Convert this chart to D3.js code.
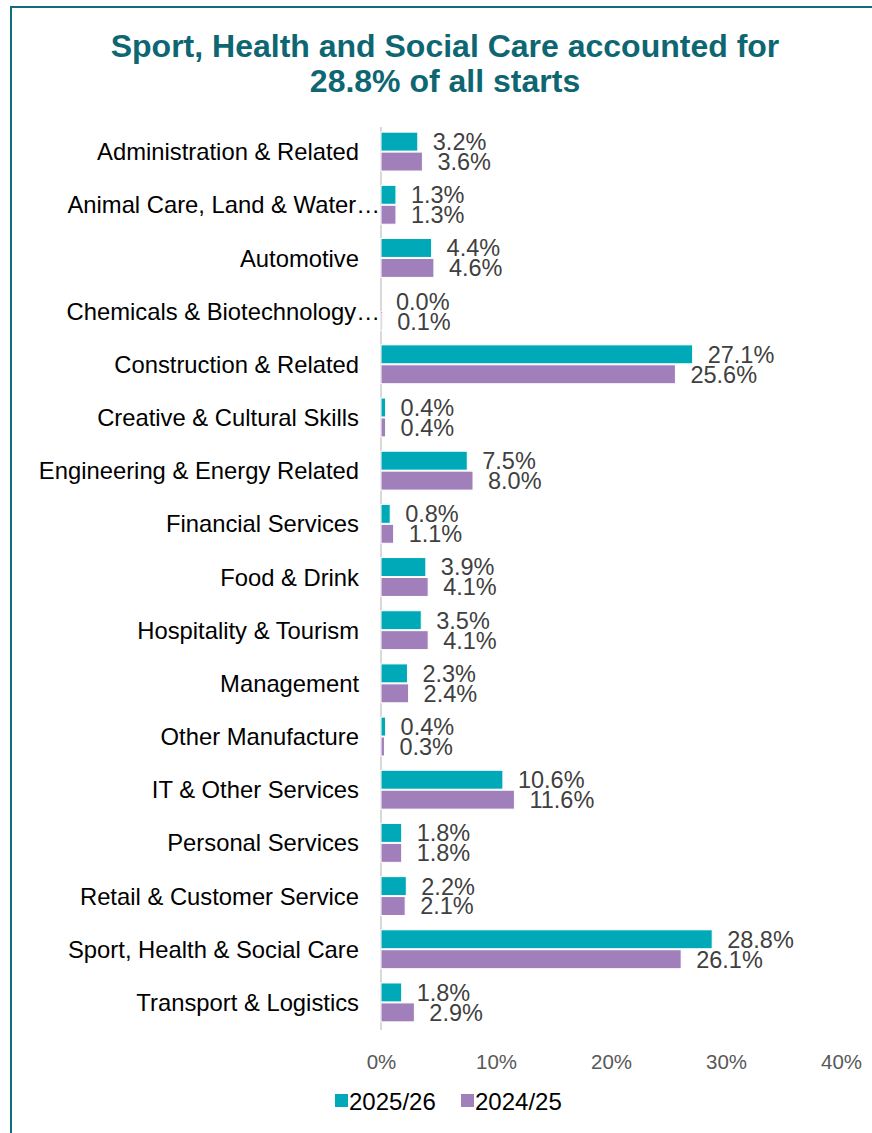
<!DOCTYPE html>
<html><head><meta charset="utf-8">
<script src="https://cdn.jsdelivr.net/npm/d3@7"></script>
<style>body{margin:0;background:#fff}svg{display:block;font-family:"Liberation Sans",Arial,sans-serif}</style>
</head><body><svg id="c" width="872" height="1133"></svg>
<script>
const categories = ["Administration & Related","Animal Care, Land & Water…","Automotive","Chemicals & Biotechnology…","Construction & Related","Creative & Cultural Skills","Engineering & Energy Related","Financial Services","Food & Drink","Hospitality & Tourism","Management","Other Manufacture","IT & Other Services","Personal Services","Retail & Customer Service","Sport, Health & Social Care","Transport & Logistics"];
const series2526 = [3.2,1.3,4.4,0.0,27.1,0.4,7.5,0.8,3.9,3.5,2.3,0.4,10.6,1.8,2.2,28.8,1.8];
const series2425 = [3.6,1.3,4.6,0.1,25.6,0.4,8.0,1.1,4.1,4.1,2.4,0.3,11.6,1.8,2.1,26.1,2.9];
const seriesNames = ["2025/26","2024/25"];
const tickValues = [0,10,20,30,40];
const colors = ["#00A9B7","#A07FBA"];

const svg = d3.select("#c");
svg.append("path").attr("d","M11,1133 V7 H872").attr("fill","none").attr("stroke","#0F6E7A").attr("stroke-width",2);
const title = svg.append("text").attr("text-anchor","middle").attr("fill","#0E6673")
  .attr("font-weight","bold").attr("font-size",32);
title.append("tspan").attr("x",445).attr("y",57).text("Sport, Health and Social Care accounted for");
title.append("tspan").attr("x",445).attr("y",92).text("28.8% of all starts");

const x = d3.scaleLinear().domain([0,40]).range([381,841]);
const y = d3.scaleBand().domain(categories).range([125,1029]).paddingInner(0.25).paddingOuter(0.125);
const y2 = d3.scaleBand().domain([0,1]).range([0,y.bandwidth()]).padding(0);

svg.append("line").attr("x1",x(0)).attr("x2",x(0)).attr("y1",127).attr("y2",1030).attr("stroke","#D9D9D9").attr("stroke-width",2);

const data = [series2526, series2425];
const g = svg.append("g");
categories.forEach((c,i)=>{
  data.forEach((s,j)=>{
    const yy = y(c)+y2(j);
    g.append("rect").attr("x",x(0)).attr("y",yy+0.5).attr("width",Math.max(0,x(s[i])-x(0)))
      .attr("height",y2.bandwidth()-1).attr("fill",colors[j]).attr("stroke","#fff").attr("stroke-width",1);
    g.append("text").attr("x",x(s[i])+15).attr("y",yy+y2.bandwidth()/2).attr("dy","0.36em")
      .attr("font-size",23.5).attr("fill","#404040").text(s[i].toFixed(1)+"%");
  });
  const truncated = c.endsWith("…");
  g.append("text").attr("x",truncated ? 380 : 359).attr("y",y(c)+y.bandwidth()/2).attr("dy","0.36em")
    .attr("text-anchor","end").attr("font-size",23.8).attr("fill","#000").text(c);
});

const xa = svg.append("g").attr("transform","translate(0,1030)")
  .call(d3.axisBottom(x).tickValues(tickValues).tickFormat(d=>d+"%").tickSize(0).tickPadding(24));
xa.select(".domain").remove();
xa.selectAll("text").attr("font-size",20.5).attr("fill","#595959").attr("font-family","Liberation Sans, Arial, sans-serif");

const leg = svg.append("g").attr("transform","translate(335,1101)");
seriesNames.forEach((n,i)=>{
  const lx = i*126;
  leg.append("rect").attr("x",lx).attr("y",-7).attr("width",13).attr("height",13).attr("fill",colors[i]);
  leg.append("text").attr("x",lx+14).attr("y",0).attr("dy","0.36em").attr("font-size",24).attr("fill","#000").text(n);
});
</script></body></html>
